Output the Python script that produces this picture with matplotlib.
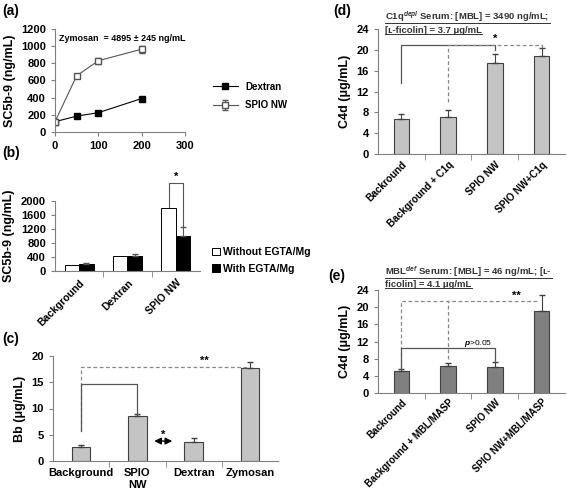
import matplotlib
matplotlib.use("Agg")
import matplotlib.pyplot as plt
from matplotlib.lines import Line2D
import numpy as np

plt.rcParams['font.family'] = ['Liberation Sans', 'DejaVu Sans']
plt.rcParams['font.weight'] = 'bold'
plt.rcParams['font.size'] = 8
plt.rcParams['axes.labelweight'] = 'bold'
plt.rcParams['mathtext.fontset'] = 'custom'
plt.rcParams['mathtext.rm'] = 'Liberation Sans:bold'
plt.rcParams['mathtext.it'] = 'Liberation Sans:italic:bold'
plt.rcParams['mathtext.bf'] = 'Liberation Sans:bold'

# (a) dose response
conc = [0, 50, 100, 200]
dextran_a = [120, 185, 225, 390]
spio_a = [120, 655, 830, 965]
spio_a_err = [0, 25, 35, 40]

# (b) EGTA/Mg
cats_b = ["Background", "Dextran", "SPIO NW"]
without_egta = [160, 440, 1800]
with_egta = [200, 430, 1000]
with_egta_err = [20, 60, 250]

# (c) Bb
cats_c = ["Background", "SPIO\nNW", "Dextran", "Zymosan"]
bb_vals = [2.6, 8.6, 3.7, 17.7]
bb_err = [0.4, 0.4, 0.7, 1.2]

# (d) C1q depleted serum
cats_d = ["Backround", "Background + C1q", "SPIO NW", "SPIO NW+C1q"]
c4d_d = [6.8, 7.2, 17.4, 18.8]
c4d_d_err = [0.8, 1.2, 1.8, 1.5]

# (e) MBL deficient serum
cats_e = ["Backround", "Background + MBL/MASP", "SPIO NW", "SPIO NW+MBL/MASP"]
c4d_e = [5.1, 6.3, 6.1, 19.1]
c4d_e_err = [0.4, 0.8, 1.2, 3.7]

W, H = 567, 488
fig = plt.figure(figsize=(W / 100, H / 100), dpi=100)
underlined = []


def px_axes(x0, y0, x1, y1):
    return fig.add_axes([x0 / W, 1 - y1 / H, (x1 - x0) / W, (y1 - y0) / H])


def style(ax):
    for s in ["top", "right"]:
        ax.spines[s].set_visible(False)
    for s in ["left", "bottom"]:
        ax.spines[s].set_color("#808080")
    ax.tick_params(colors="black", length=3, color="#808080", labelsize=8)


def category_axis(ax, cats, rot=0, size=8, pad=5):
    n = len(cats)
    ax.set_xlim(-0.5, n - 0.5)
    ax.set_xticks(range(n))
    if rot:
        ax.set_xticklabels(cats, rotation=rot, ha="right", rotation_mode="anchor",
                           fontsize=size)
    else:
        ax.set_xticklabels(cats, fontsize=size)
    ax.tick_params(axis="x", which="major", length=0, pad=pad)
    ax.set_xticks(np.arange(0.5, n - 0.5, 1), minor=True)
    ax.tick_params(axis="x", which="minor", length=4, color="#808080")


grey_solid = "#555555"
grey_dash = "#888888"

# ---------------- (a)
ax = px_axes(55, 29, 185, 132)
style(ax)
ax.plot(conc, dextran_a, "-s", color="black", ms=5, lw=0.8, label="Dextran")
ax.errorbar(conc, spio_a, yerr=spio_a_err, fmt="-s", color="#555555", mfc="white",
            mec="#555555", ms=5, lw=0.8, capsize=2, elinewidth=0.8, label="SPIO NW")
ax.set_xlim(0, 300)
ax.set_ylim(0, 1200)
ax.set_xticks([0, 100, 200, 300])
ax.set_yticks(range(0, 1201, 200))
ax.set_ylabel("SC5b-9 (ng/mL)", fontsize=9)
ax.text(0.03, 0.88, "Zymosan  = 4895 ± 245 ng/mL", fontsize=6.5, transform=ax.transAxes)
ax.legend(loc="center left", bbox_to_anchor=(1.15, 0.35), frameon=False,
          fontsize=7, handlelength=2.5, labelspacing=0.9)
fig.text(2 / W, 1 - 15 / H, "(a)", fontsize=10, weight="bold")

# ---------------- (b)
ax = px_axes(55, 201, 200, 271)
style(ax)
xb = np.arange(len(cats_b))
bw = 0.3
ax.bar(xb - bw / 2, without_egta, bw, color="white", edgecolor="black", lw=0.7,
       label="Without EGTA/Mg")
ax.bar(xb + bw / 2, with_egta, bw, color="black", edgecolor="black", lw=0.7,
       yerr=[[0] * 3, with_egta_err], error_kw=dict(capsize=2, elinewidth=0.8, ecolor="#555555"),
       label="With EGTA/Mg")
category_axis(ax, cats_b, rot=45, size=7.5)
ax.set_ylim(0, 2000)
ax.set_yticks(range(0, 2001, 400))
ax.set_ylabel("SC5b-9 (ng/mL)", fontsize=9)
ax.plot([2 - bw / 2, 2 - bw / 2, 2 + bw / 2, 2 + bw / 2], [1820, 2520, 2520, 1300],
        color=grey_solid, lw=0.8, clip_on=False)
ax.text(2, 2600, "*", ha="center", fontsize=8, clip_on=False)
ax.legend(loc="center left", bbox_to_anchor=(1.02, 0.15), frameon=False, fontsize=7.5,
          handlelength=0.7, handleheight=0.7, handletextpad=0.3, labelspacing=0.6)
fig.text(2 / W, 1 - 157 / H, "(b)", fontsize=10, weight="bold")

# ---------------- (c)
ax = px_axes(53, 356, 278, 461)
style(ax)
xc = np.arange(len(cats_c))
ax.bar(xc, bb_vals, 0.33, color="#c4c4c4", edgecolor="#404040", lw=0.8,
       yerr=[[0] * 4, bb_err], error_kw=dict(capsize=2.5, elinewidth=0.8, ecolor="#404040"))
category_axis(ax, cats_c)
ax.set_ylim(0, 20)
ax.set_yticks(range(0, 21, 5))
ax.set_ylabel("Bb (μg/mL)", fontsize=9)
ax.plot([0, 0, 2.95, 2.95], [6.0, 18, 18, 18], ls=(0, (3, 2)), color=grey_dash, lw=0.9)
ax.text(2.2, 18.6, "**", ha="center", fontsize=8)
ax.plot([0, 0, 1, 1], [5.8, 14.6, 14.6, 8.9], color=grey_solid, lw=0.9)
ax.annotate("", xy=(1.3, 3.8), xytext=(1.62, 3.8),
            arrowprops=dict(arrowstyle="<|-|>,head_length=0.5,head_width=0.25",
                            color="black", lw=1.0, mutation_scale=8,
                            shrinkA=0, shrinkB=0))
ax.text(1.46, 4.4, "*", ha="center", fontsize=8)
fig.text(2 / W, 1 - 343 / H, "(c)", fontsize=10, weight="bold")

# ---------------- (d)
ax = px_axes(378, 29, 565, 154)
style(ax)
xd = np.arange(len(cats_d))
ax.bar(xd, c4d_d, 0.33, color="#c4c4c4", edgecolor="#404040", lw=0.8,
       yerr=[[0] * 4, c4d_d_err], error_kw=dict(capsize=2.5, elinewidth=0.8, ecolor="#404040"))
category_axis(ax, cats_d, rot=45, size=7.2, pad=4)
ax.set_ylim(0, 24)
ax.set_yticks(range(0, 25, 4))
ax.set_ylabel("C4d (μg/mL)", fontsize=9)
ax.plot([0, 0, 2, 2], [13.6, 20.9, 20.9, 20.0], color=grey_solid, lw=0.9)
ax.plot([1, 1, 3, 3], [10.0, 20.9, 20.9, 20.3], ls=(0, (3, 2)), color=grey_dash, lw=0.9)
ax.text(2, 21.6, "*", ha="center", fontsize=8)
underlined.append(ax.text(0.04, 1.07, "C1q$^{depl}$ Serum: [MBL] = 3490 ng/mL;",
                          transform=ax.transAxes, fontsize=6.8, color="#333333"))
underlined.append(ax.text(0.04, 0.97, "[ʟ-ficolin] = 3.7 μg/mL",
                          transform=ax.transAxes, fontsize=6.8, color="#333333"))
fig.text(333 / W, 1 - 15 / H, "(d)", fontsize=10, weight="bold")

# ---------------- (e)
ax = px_axes(378, 290, 565, 393)
style(ax)
xe = np.arange(len(cats_e))
ax.bar(xe, c4d_e, 0.33, color="#808080", edgecolor="#404040", lw=0.8,
       yerr=[[0] * 4, c4d_e_err], error_kw=dict(capsize=2.5, elinewidth=0.8, ecolor="#404040"))
category_axis(ax, cats_e, rot=45, size=7.0, pad=3)
ax.set_ylim(0, 24)
ax.set_yticks(range(0, 25, 4))
ax.set_ylabel("C4d (μg/mL)", fontsize=9)
ax.plot([0, 0, 2.9], [5.6, 21.4, 21.4], ls=(0, (3, 2)), color=grey_dash, lw=0.9)
ax.plot([1, 1], [8.0, 21.4], ls=(0, (3, 2)), color=grey_dash, lw=0.9)
ax.text(2.45, 22.0, "**", ha="center", fontsize=8)
ax.plot([0, 0, 2, 2], [5.6, 10.5, 10.5, 7.4], color=grey_solid, lw=0.9)
ax.text(1.65, 11.2, "$p$>0.05", ha="center", fontsize=6, weight="normal")
underlined.append(ax.text(0.04, 1.15, "MBL$^{def}$ Serum: [MBL] = 46 ng/mL; [ʟ-",
                          transform=ax.transAxes, fontsize=6.8, color="#333333"))
underlined.append(ax.text(0.04, 1.03, "ficolin] = 4.1 μg/mL",
                          transform=ax.transAxes, fontsize=6.8, color="#333333"))
fig.text(328 / W, 1 - 280 / H, "(e)", fontsize=10, weight="bold")

# underline the serum captions
fig.canvas.draw()
renderer = fig.canvas.get_renderer()
for t in underlined:
    bb = t.get_window_extent(renderer).transformed(fig.transFigure.inverted())
    fig.add_artist(Line2D([bb.x0, bb.x1], [bb.y0 + 0.002, bb.y0 + 0.002],
                          transform=fig.transFigure, color="#333333", lw=0.7))

fig.savefig("out.png", dpi=100)
